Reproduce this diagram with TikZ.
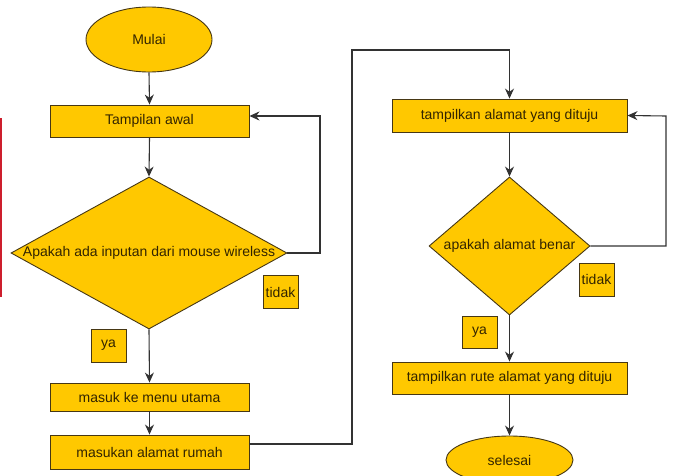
\documentclass[tikz,border=0pt]{standalone}
\usepackage{fontspec}
\setmainfont{Liberation Sans}
\usetikzlibrary{shapes.geometric,arrows.meta}
\definecolor{fillc}{RGB}{255,200,0}
\definecolor{edgec}{RGB}{70,55,20}
\definecolor{txtc}{RGB}{50,36,0}
\definecolor{linec}{RGB}{50,50,50}
\definecolor{redbar}{RGB}{205,30,45}
\tikzset{
  base/.style={draw=edgec, fill=fillc, line width=0.9pt, text=txtc, inner sep=0pt, font=\fontsize{14}{16}\selectfont},
  procbox/.style={base, rectangle, minimum width=199pt, minimum height=32pt},
  termin/.style={base, ellipse, minimum width=126pt, minimum height=65pt},
  decis/.style={base, diamond, inner sep=0pt},
  lbl/.style={text=txtc, font=\fontsize{14}{16}\selectfont},
  tag/.style={base, rectangle, minimum width=35pt, minimum height=33pt},
  conn/.style={draw=linec, line width=1.1pt},
  arr/.style={conn, -{Stealth[length=10pt,width=9pt]}}
}
\begin{document}
\begin{tikzpicture}[x=1pt,y=-1pt]
\useasboundingbox (0,0) rectangle (674,476);
\fill[redbar] (0,118) rectangle (1.6,297);
% left column
\node[termin] (mulai) at (149,39.5) {Mulai};
\node[procbox] (t1) at (149.5,121) {Tampilan awal};
\node[decis, minimum width=276pt, minimum height=152pt] (d1) at (149,253) {};
\node[lbl] (d1t) at (d1.center) {Apakah ada inputan dari mouse wireless};
\node[tag] (tidak1) at (280.5,292) {tidak};
\node[tag] (ya1) at (108.5,345.5) {ya};
\node[procbox, minimum height=28pt] (m1) at (149.5,397) {masuk ke menu utama};
\node[procbox, minimum height=34pt] (m2) at (149.5,452) {masukan alamat rumah};
% right column
\node[procbox, minimum width=235pt, minimum height=33pt] (t2) at (509.5,115.5) {tampilkan alamat yang dituju};
\node[decis, minimum width=161pt, minimum height=138pt] (d2) at (509.5,246) {};
\node[lbl] (d2t) at (d2.center) {apakah alamat benar};
\node[tag] (tidak2) at (596.5,279.5) {tidak};
\node[tag, minimum height=32pt] (ya2) at (479.5,332) {ya};
\node[procbox, minimum width=235pt] (rute) at (509.5,378) {tampilkan rute alamat yang dituju};
\node[termin, minimum width=127pt, minimum height=48pt] (selesai) at (509.5,460) {selesai};
% coordinates
\coordinate (c1) at (320,116);
\coordinate (c2a) at (352,444);
\coordinate (c2b) at (352,50);
\coordinate (c2c) at (509.5,50);
\coordinate (c3) at (666,116);
% connectors
\draw[arr] (mulai.south) -- (t1.north);
\draw[arr] (t1.south) -- (d1.north);
\draw[arr] (d1.east) -| (c1) -- ([yshift=5pt]t1.east);
\draw[arr] (d1.south) -- (m1.north);
\draw[arr] (m1.south) -- (m2.north);
\draw[arr] ([yshift=8pt]m2.east) -- (c2a) -- (c2b) -- (c2c) -- (t2.north);
\draw[arr] (t2.south) -- (d2.north);
\draw[arr] (d2.east) -| (c3) -- (t2.east);
\draw[arr] (d2.south) -- (rute.north);
\draw[arr] (rute.south) -- (selesai.north);
\end{tikzpicture}
\end{document}
